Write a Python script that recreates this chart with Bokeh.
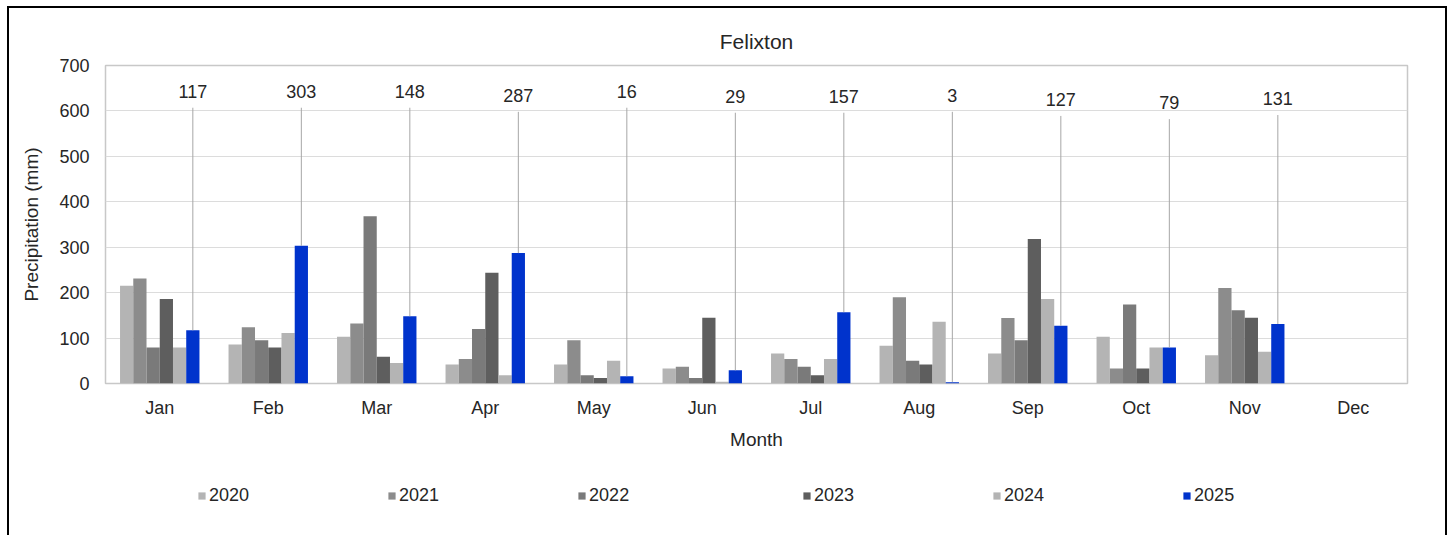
import math
from bokeh.plotting import figure
from bokeh.layouts import column
from bokeh.models import ColumnDataSource, FactorRange, Range1d, Legend, LegendItem
from bokeh.transform import dodge
from bokeh.core.properties import value
from bokeh.embed import file_html
from bokeh.resources import INLINE

nan = float("nan")

months = ["Jan", "Feb", "Mar", "Apr", "May", "Jun", "Jul", "Aug", "Sep", "Oct", "Nov", "Dec"]
years = ["2020", "2021", "2022", "2023", "2024", "2025"]
p2020 = [215, 86, 103, 42, 42, 33, 66, 83, 66, 103, 62, nan]
p2021 = [231, 124, 132, 54, 95, 37, 54, 190, 144, 33, 210, nan]
p2022 = [79, 95, 368, 120, 18, 12, 37, 50, 95, 174, 161, nan]
p2023 = [186, 79, 59, 244, 12, 145, 18, 42, 318, 33, 145, nan]
p2024 = [79, 111, 45, 18, 50, 4, 54, 136, 186, 79, 70, nan]
p2025 = [117, 303, 148, 287, 16, 29, 157, 3, 127, 79, 131, nan]
y_ticks = [0, 100, 200, 300, 400, 500, 600, 700]

# layout-only: height (data units) at which each 2025 value label sits
label_y = [643, 643, 643, 634, 643, 632, 632, 634, 625, 618, 627]

colors = ["#B4B4B4", "#8C8C8C", "#7A7A7A", "#5E5E5E", "#B4B4B4", "#0033CC"]
FONT = "Liberation Sans"
TXT = "#262626"

series = [p2020, p2021, p2022, p2023, p2024, p2025]
src = ColumnDataSource(dict(month=months, **{y: s for y, s in zip(years, series)}))

lbl_months = [m for m, v in zip(months, p2025) if not math.isnan(v)]
lbl_vals = [v for v in p2025 if not math.isnan(v)]
lsrc = ColumnDataSource(dict(
    month=lbl_months,
    val=lbl_vals,
    ly=label_y,
    ltop=[v - 36 for v in label_y],
    txt=[str(int(v)) for v in lbl_vals],
))

W = 1436
p = figure(
    width=W, height=454,
    x_range=FactorRange(*months, range_padding=0),
    y_range=Range1d(0, 700),
    output_backend="svg", toolbar_location=None,
    min_border_left=96, min_border_right=38, min_border_top=57, min_border_bottom=79,
)

bw = 0.122
for i, (yr, c) in enumerate(zip(years, colors)):
    off = (i - 2.5) * bw
    p.vbar(x=dodge("month", off, range=p.x_range), top=yr, width=bw,
           source=src, fill_color=c, line_color=None)

off25 = 2.5 * bw
p.segment(x0=dodge("month", off25, range=p.x_range), y0="ltop",
          x1=dodge("month", off25, range=p.x_range), y1="val",
          source=lsrc, line_color="#A6A6A6", line_width=1)
p.text(x=dodge("month", off25, range=p.x_range), y="ly", text="txt", source=lsrc,
       text_align="center", text_baseline="middle", text_font=value(FONT),
       text_font_size="18px", text_color=TXT)

# title
p.title.text = "Felixton"
p.title.align = "center"
p.title.text_font = FONT
p.title.text_font_size = "21px"
p.title.text_font_style = "normal"
p.title.text_color = TXT
p.title.standoff = 25

# frame / grid
p.outline_line_color = "#C8C8C8"
p.outline_line_width = 1.5
p.xgrid.grid_line_color = None
p.ygrid.grid_line_color = "#DCDCDC"
p.ygrid.grid_line_width = 1.2

# axes
p.yaxis.ticker = y_ticks
for ax in (p.xaxis[0], p.yaxis[0]):
    ax.axis_line_color = None
    ax.major_tick_line_color = None
    ax.minor_tick_line_color = None
    ax.major_label_text_font = FONT
    ax.major_label_text_font_size = "18px"
    ax.major_label_text_color = TXT
    ax.axis_label_text_font = FONT
    ax.axis_label_text_font_size = "19px"
    ax.axis_label_text_font_style = "normal"
    ax.axis_label_text_color = TXT
p.yaxis.axis_label = "Precipitation (mm)"
p.yaxis.major_label_standoff = 10
p.yaxis.axis_label_standoff = 14
p.xaxis.axis_label = "Month"
p.xaxis.major_label_standoff = 8
p.xaxis.axis_label_standoff = 8

# legend strip (separate small figure so the legend is not clipped)
pl = figure(
    width=W, height=73, x_range=Range1d(0, 1), y_range=Range1d(0, 1),
    output_backend="svg", toolbar_location=None,
    x_axis_location=None, y_axis_location=None,
    min_border_left=96, min_border_right=38, min_border_top=0, min_border_bottom=0,
)
pl.outline_line_color = None
pl.outline_line_alpha = 0
pl.background_fill_color = "white"
pl.border_fill_color = "white"
pl.grid.visible = False
leg_r = []
for c in colors:
    leg_r.append(pl.vbar(x=[0.5], top=[0], bottom=[0], width=0.0, fill_color=c,
                         line_color=None, fill_alpha=1))

def make_legend(idx, loc):
    return Legend(
        items=[LegendItem(label=years[i], renderers=[leg_r[i]]) for i in idx],
        location=loc, orientation="horizontal",
        label_text_font=FONT, label_text_font_size="18px", label_text_color=TXT,
        glyph_width=9, glyph_height=9, label_standoff=3, spacing=138,
        padding=0, margin=0, border_line_color=None, background_fill_alpha=0,
    )

pl.add_layout(make_legend([0, 1, 2], (92, 29)))
pl.add_layout(make_legend([3, 4, 5], (697, 29)))

layout = column(p, pl, spacing=0)
layout.margin = (8, 0, 0, 9)
layout.styles = {"box-shadow": "-2px 0 0 0 #000, 2px 0 0 0 #000, 0 -2px 0 0 #000, -2px -2px 0 0 #000, 2px -2px 0 0 #000"}

open("out.html", "w").write(file_html(layout, INLINE))
